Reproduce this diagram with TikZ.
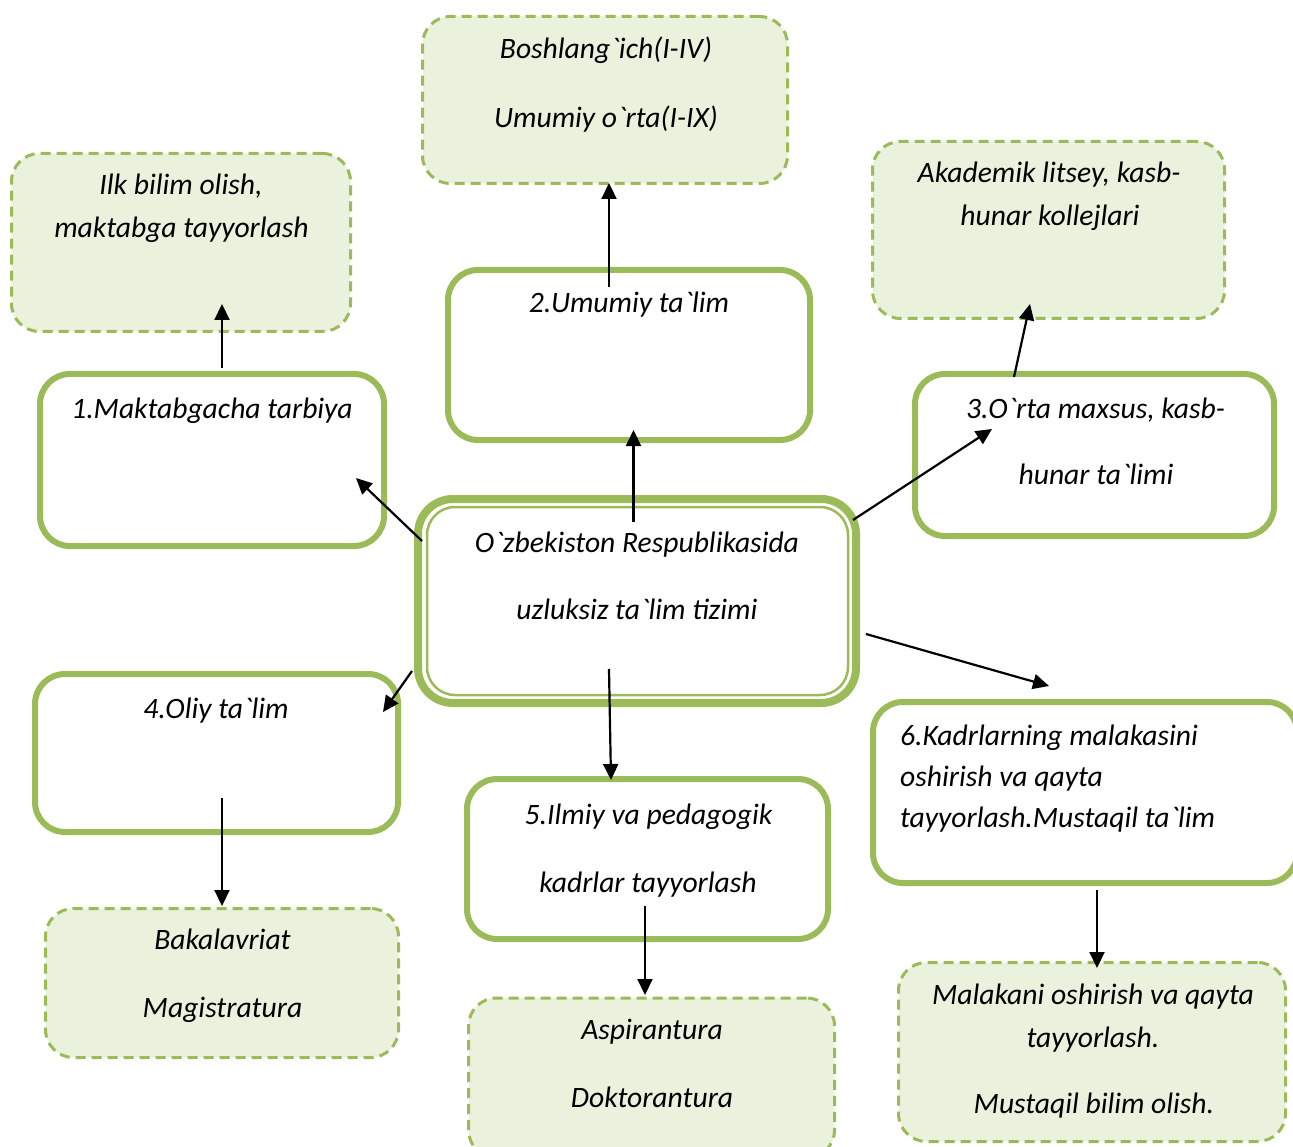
\documentclass[tikz,border=0pt]{standalone}
\usepackage{fontspec}
\setmainfont{Carlito}[Ligatures=TeXOff]
\usetikzlibrary{arrows.meta}
\definecolor{grn}{HTML}{9BBB59}
\definecolor{lgrn}{HTML}{EAF1DD}
\begin{document}
\begin{tikzpicture}[x=1pt,y=-1pt,
  solidbox/.style={draw=grn, line width=6pt, rounded corners=30pt, fill=white, inner sep=0pt},
  dashbox/.style={draw=grn, line width=3pt, dash pattern=on 10pt off 6pt, rounded corners=28pt, fill=lgrn, inner sep=0pt},
  lbl/.style={font=\fontsize{29.6}{35}\selectfont\itshape, anchor=base, inner sep=0pt},
  arr/.style={line width=2.2pt, -{Triangle[length=16pt,width=15pt]}}]
\useasboundingbox (0,0) rectangle (1293,1147);
\clip (0,0) rectangle (1293,1147);
\fill[white] (0,0) rectangle (1293,1147);
% dashed boxes
\node[dashbox, minimum width=365pt, minimum height=167pt] (dtop) at (605,100) {};
\node[dashbox, minimum width=339pt, minimum height=178pt] (dilk) at (181,242.5) {};
\node[dashbox, minimum width=352pt, minimum height=177pt] (dak) at (1048.5,230) {};
\node[dashbox, minimum width=353pt, minimum height=149pt] (dbak) at (222,983) {};
\node[dashbox, minimum width=366pt, minimum height=160pt] (dasp) at (651.5,1078) {};
\node[dashbox, minimum width=387pt, minimum height=179pt] (dmal) at (1092,1052) {};
% solid boxes
\node[solidbox, minimum width=362pt, minimum height=170pt] (b2) at (629,355) {};
\node[solidbox, minimum width=344pt, minimum height=172pt] (b1) at (212,460) {};
\node[solidbox, minimum width=359pt, minimum height=162pt] (b3) at (1094.5,455) {};
\node[solidbox, minimum width=363pt, minimum height=158pt] (b4) at (216.5,753) {};
\node[solidbox, minimum width=361pt, minimum height=160pt] (b5) at (647.5,859) {};
\node[solidbox, minimum width=424pt, minimum height=181pt] (b6) at (1085,792.5) {};
% central
\node[solidbox, line width=8pt, rounded corners=35pt, minimum width=438pt, minimum height=204pt] (c) at (637,601) {};
\node[draw=grn, line width=2.5pt, rounded corners=28pt, inner sep=0pt, minimum width=421pt, minimum height=188pt] (ci) at (637.5,601) {};
% texts
\node[lbl] (t1) at (606,59) {Boshlang`ich(I-IV)};
\node[lbl] (t2) at (606,128) {Umumiy o`rta(I-IX)};
\node[lbl] (t3) at (181,195) {Ilk bilim olish,};
\node[lbl] (t4) at (181.5,238) {maktabga tayyorlash};
\node[lbl] (t5) at (1049,183) {Akademik litsey, kasb-};
\node[lbl] (t6) at (1050,226) {hunar kollejlari};
\node[lbl] (t7) at (629,313) {2.Umumiy ta`lim};
\node[lbl] (t8) at (212,418) {1.Maktabgacha tarbiya};
\node[lbl] (t9) at (1095.5,418) {3.O`rta maxsus, kasb-};
\node[lbl] (t10) at (1096,484) {hunar ta`limi};
\node[lbl] (t11) at (637,552) {O`zbekiston Respublikasida};
\node[lbl] (t12) at (637,619) {uzluksiz ta`lim tizimi};
\node[lbl] (t13) at (216,718) {4.Oliy ta`lim};
\node[lbl] (t14) at (648.5,824) {5.Ilmiy va pedagogik};
\node[lbl] (t15) at (648,892) {kadrlar tayyorlash};
\node[lbl, anchor=base west] (t16) at (900,745) {6.Kadrlarning malakasini};
\node[lbl, anchor=base west] (t17) at (900,786) {oshirish va qayta};
\node[lbl, anchor=base west] (t18) at (900,827) {tayyorlash.Mustaqil ta`lim};
\node[lbl] (t19) at (222.5,949) {Bakalavriat};
\node[lbl] (t20) at (222.5,1017) {Magistratura};
\node[lbl] (t21) at (652,1039) {Aspirantura};
\node[lbl] (t22) at (652,1107) {Doktorantura};
\node[lbl] (t23) at (1093,1004) {Malakani oshirish va qayta};
\node[lbl] (t24) at (1093,1047) {tayyorlash.};
\node[lbl] (t25) at (1094,1113) {Mustaqil bilim olish.};
% connector end points
\coordinate (a1s) at (222,368); \coordinate (a1e) at (222,304);
\coordinate (a2s) at (609,287); \coordinate (a2e) at (609,183);
\coordinate (a3s) at (1014,377); \coordinate (a3e) at (1030,304);
\coordinate (a4s) at (633.5,522); \coordinate (a4e) at (633.5,430);
\coordinate (a5s) at (422,541); \coordinate (a5e) at (356,478);
\coordinate (a6s) at (853,520); \coordinate (a6e) at (992,429);
\coordinate (a7s) at (866,634); \coordinate (a7e) at (1049,686);
\coordinate (a8s) at (412,671); \coordinate (a8e) at (383,712);
\coordinate (a9s) at (609,669); \coordinate (a9e) at (611,780);
\coordinate (a10s) at (222,798); \coordinate (a10e) at (222,906);
\coordinate (a11s) at (645,906); \coordinate (a11e) at (645,995);
\coordinate (a12s) at (1097,890); \coordinate (a12e) at (1097,968);
\draw[arr] (a1s) -- (a1e);
\draw[arr] (a2s) -- (a2e);
\draw[arr] (a3s) -- (a3e);
\draw[arr] (a4s) -- (a4e);
\draw[arr] (a5s) -- (a5e);
\draw[arr] (a6s) -- (a6e);
\draw[arr] (a7s) -- (a7e);
\draw[arr] (a8s) -- (a8e);
\draw[arr] (a9s) -- (a9e);
\draw[arr] (a10s) -- (a10e);
\draw[arr] (a11s) -- (a11e);
\draw[arr] (a12s) -- (a12e);
\end{tikzpicture}
\end{document}
